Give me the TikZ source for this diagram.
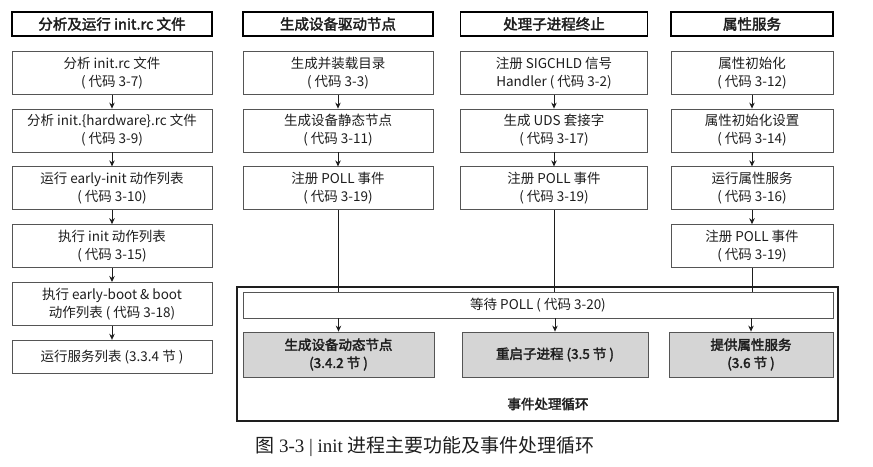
\documentclass[tikz,border=0pt]{standalone}
\usepackage{fontspec}
\setmainfont{Noto Sans CJK SC}[AutoFakeBold=2.4]
\newfontfamily\capfont{Liberation Serif}
\usepackage{tikz}
\usetikzlibrary{positioning,arrows.meta}
\usepackage{xcolor}
\definecolor{Ink}{HTML}{1E1E1E}
\definecolor{Frame}{HTML}{555555}
\definecolor{Shade}{HTML}{D5D5D5}

\begin{document}
\begin{tikzpicture}[x=1pt,y=-1pt,node distance=14pt, every node/.style={align=center,text=Ink,inner sep=2pt},
  hdr/.style={draw=black,line width=1.6pt,minimum height=24pt,font=\fontsize{14.5}{16}\selectfont\bfseries},
  stepbox/.style={draw=Frame,fill=white,line width=0.8pt,minimum height=43pt,font=\fontsize{13.5}{18}\selectfont},
  evbox/.style={draw=Frame,fill=Shade,line width=0.8pt,minimum height=45pt,font=\fontsize{13.5}{18}\selectfont\bfseries},
  flow/.style={-{Stealth[length=6pt,width=5.5pt]},line width=0.9pt,draw=Ink}]
\useasboundingbox (0,0) rectangle (873,466);
% column 1: init.rc
\node[hdr,minimum width=200pt] (rc) at (112,24) {分析及运行 init.rc 文件};
\node[stepbox,minimum width=200pt,below=of rc] (rc1) {分析 init.rc 文件\\( 代码 3-7)};
\node[stepbox,minimum width=200pt,below=of rc1] (rc2) {分析 init.\{hardware\}.rc 文件\\( 代码 3-9)};
\node[stepbox,minimum width=200pt,below=of rc2] (rc3) {运行 early-init 动作列表\\( 代码 3-10)};
\node[stepbox,minimum width=200pt,below=of rc3] (rc4) {执行 init 动作列表\\( 代码 3-15)};
\node[stepbox,minimum width=200pt,below=of rc4] (rc5) {执行 early-boot \& boot\\动作列表 ( 代码 3-18)};
\node[stepbox,minimum width=200pt,minimum height=33pt,below=of rc5] (rc6) {运行服务列表 (3.3.4 节 )};
% column 2: device nodes
\node[hdr,minimum width=190pt] (dev) at (338,24) {生成设备驱动节点};
\node[stepbox,minimum width=190pt,below=of dev] (dev1) {生成并装载目录\\( 代码 3-3)};
\node[stepbox,minimum width=190pt,below=of dev1] (dev2) {生成设备静态节点\\( 代码 3-11)};
\node[stepbox,minimum width=190pt,below=of dev2] (dev3) {注册 POLL 事件\\( 代码 3-19)};
% column 3: child processes
\node[hdr,minimum width=187pt] (chld) at (554,24) {处理子进程终止};
\node[stepbox,minimum width=187pt,below=of chld] (chld1) {注册 SIGCHLD 信号\\Handler ( 代码 3-2)};
\node[stepbox,minimum width=187pt,below=of chld1] (chld2) {生成 UDS 套接字\\( 代码 3-17)};
\node[stepbox,minimum width=187pt,below=of chld2] (chld3) {注册 POLL 事件\\( 代码 3-19)};
% column 4: properties
\node[hdr,minimum width=162pt] (prop) at (752,24) {属性服务};
\node[stepbox,minimum width=162pt,below=of prop] (prop1) {属性初始化\\( 代码 3-12)};
\node[stepbox,minimum width=162pt,below=of prop1] (prop2) {属性初始化设置\\( 代码 3-14)};
\node[stepbox,minimum width=162pt,below=of prop2] (prop3) {运行属性服务\\( 代码 3-16)};
\node[stepbox,minimum width=162pt,below=of prop3] (prop4) {注册 POLL 事件\\( 代码 3-19)};
% event loop
\node[draw=Ink,line width=1.4pt,minimum width=601pt,minimum height=134pt] (loop) at (537.5,354) {};
\node[stepbox,minimum width=590pt,minimum height=26pt] (wait) at (538,305) {等待 POLL ( 代码 3-20)};
\node[evbox,minimum width=191pt] (dyn) at (338.5,354.5) {生成设备动态节点\\(3.4.2 节 )};
\node[evbox,minimum width=186pt] (restart) at (555,354.5) {重启子进程 (3.5 节 )};
\node[evbox,minimum width=164pt] (serve) at (751,354.5) {提供属性服务\\(3.6 节 )};
\node[font=\fontsize{13.5}{16}\selectfont\bfseries] (looplbl) at (548,404) {事件处理循环};
\node[font=\fontsize{19}{20}\selectfont] (cap) at (425,447) {图 {\capfont 3-3 | init} 进程主要功能及事件处理循环};
\draw[flow] (rc1)--(rc2);
\draw[flow] (rc2)--(rc3);
\draw[flow] (rc3)--(rc4);
\draw[flow] (rc4)--(rc5);
\draw[flow] (rc5)--(rc6);
\draw[flow] (dev1)--(dev2);
\draw[flow] (dev2)--(dev3);
\draw[flow] (chld1)--(chld2);
\draw[flow] (chld2)--(chld3);
\draw[flow] (prop1)--(prop2);
\draw[flow] (prop2)--(prop3);
\draw[flow] (prop3)--(prop4);
\draw[line width=0.9pt,Ink] (dev3)--(dev3 |- wait.north);
\draw[line width=0.9pt,Ink] (chld3)--(chld3 |- wait.north);
\draw[line width=0.9pt,Ink] (prop4)--(prop4 |- wait.north);
\draw[flow] (dyn |- wait.south)--(dyn);
\draw[flow] (restart |- wait.south)--(restart);
\draw[flow] (serve |- wait.south)--(serve);
\end{tikzpicture}
\end{document}
